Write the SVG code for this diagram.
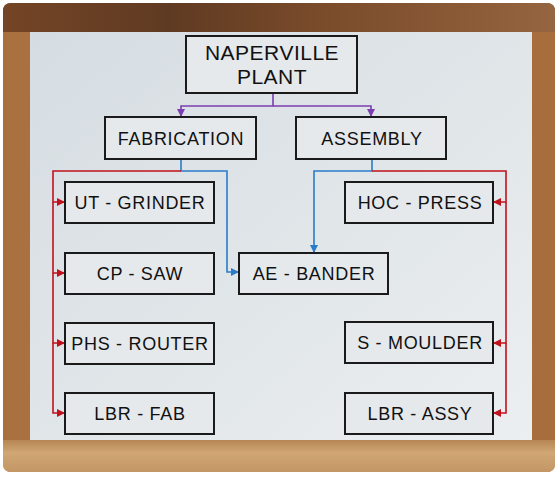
<svg xmlns="http://www.w3.org/2000/svg" width="558" height="477" viewBox="0 0 558 477">
<defs>
<linearGradient id="topWood" x1="0" y1="0" x2="1" y2="0">
<stop offset="0" stop-color="#744526"/><stop offset="0.3" stop-color="#5f3a22"/><stop offset="0.6" stop-color="#7c4d2b"/><stop offset="1" stop-color="#956440"/>
</linearGradient>
<linearGradient id="sideWood" x1="0" y1="0" x2="1" y2="0">
<stop offset="0" stop-color="#a9703f"/><stop offset="0.5" stop-color="#b47b47"/><stop offset="1" stop-color="#9d6336"/>
</linearGradient>
<linearGradient id="botWood" x1="0" y1="0" x2="0" y2="1">
<stop offset="0" stop-color="#b68654"/><stop offset="0.4" stop-color="#cfa674"/><stop offset="1" stop-color="#c49665"/>
</linearGradient>
<linearGradient id="board" x1="0" y1="0" x2="1" y2="1">
<stop offset="0" stop-color="#d6dde2"/><stop offset="0.6" stop-color="#e2e7ea"/><stop offset="1" stop-color="#eceff1"/>
</linearGradient>
<marker id="arP" markerWidth="8" markerHeight="8" refX="7" refY="4" orient="auto" markerUnits="userSpaceOnUse"><path d="M0,0 L8,4 L0,8 z" fill="#7b3fb0"/></marker>
<marker id="arR" markerWidth="8" markerHeight="8" refX="7" refY="4" orient="auto" markerUnits="userSpaceOnUse"><path d="M0,0 L8,4 L0,8 z" fill="#c1121c"/></marker>
<marker id="arB" markerWidth="8" markerHeight="8" refX="7" refY="4" orient="auto" markerUnits="userSpaceOnUse"><path d="M0,0 L8,4 L0,8 z" fill="#2a7cc8"/></marker>
<style>
.box{fill:#e5e9ec;stroke:#1a1a1a;stroke-width:2}
.t{font-family:"Liberation Sans",Arial,sans-serif;font-size:18px;fill:#111;text-anchor:middle;letter-spacing:0.7px}
.big{font-size:21px;letter-spacing:0.5px}
.p{fill:none;stroke:#7b3fb0;stroke-width:1.6}
.r{fill:none;stroke:#c1121c;stroke-width:1.6}
.b{fill:none;stroke:#2a7cc8;stroke-width:1.6}
</style>
</defs>
<g id="frame">
<rect x="3" y="3" width="552" height="469" rx="8" fill="url(#sideWood)"/>
<path d="M11,3 H547 Q555,3 555,11 V32 H3 V11 Q3,3 11,3 z" fill="url(#topWood)"/>
<path d="M3,440 H555 V464 Q555,472 547,472 H11 Q3,472 3,464 z" fill="url(#botWood)"/>
<rect x="532" y="32" width="23" height="408" fill="#a76d3d"/>
<rect x="30" y="32" width="502" height="408" fill="url(#board)"/>
</g>
<g id="connectors">
<path class="p" d="M273,93 V106 H181 V116" marker-end="url(#arP)"/>
<path class="p" d="M273,106 H371 V116" marker-end="url(#arP)"/>
<path class="b" d="M181,159 V171 H227 V272 H238" marker-end="url(#arB)"/>
<path class="r" d="M181,171 H53 V202 H64" marker-end="url(#arR)"/>
<path class="r" d="M53,202 V273 H64" marker-end="url(#arR)"/>
<path class="r" d="M53,273 V343 H64" marker-end="url(#arR)"/>
<path class="r" d="M53,343 V413 H64" marker-end="url(#arR)"/>
<path class="b" d="M372,159 V171 H314 V252" marker-end="url(#arB)"/>
<path class="r" d="M372,171 H506 V202 H494" marker-end="url(#arR)"/>
<path class="r" d="M506,202 V343 H494" marker-end="url(#arR)"/>
<path class="r" d="M506,343 V413 H494" marker-end="url(#arR)"/>
</g>
<g id="naperville"><rect class="box" x="186" y="36" width="171" height="57"/><text class="t big" x="272" y="60">NAPERVILLE</text><text class="t big" x="272" y="84">PLANT</text></g>
<g id="fabrication"><rect class="box" x="105" y="117" width="151" height="42"/><text class="t" x="181" y="145">FABRICATION</text></g>
<g id="assembly"><rect class="box" x="296" y="117" width="150" height="42"/><text class="t" x="372" y="145">ASSEMBLY</text></g>
<g id="ut-grinder"><rect class="box" x="65" y="182" width="149" height="41"/><text class="t" x="140" y="209">UT - GRINDER</text></g>
<g id="hoc-press"><rect class="box" x="345" y="182" width="148" height="41"/><text class="t" x="420" y="209">HOC - PRESS</text></g>
<g id="cp-saw"><rect class="box" x="65" y="253" width="149" height="41"/><text class="t" x="140" y="280">CP - SAW</text></g>
<g id="ae-bander"><rect class="box" x="239" y="253" width="149" height="41"/><text class="t" x="314" y="280">AE - BANDER</text></g>
<g id="phs-router"><rect class="box" x="65" y="323" width="149" height="41"/><text class="t" x="140" y="350">PHS - ROUTER</text></g>
<g id="s-moulder"><rect class="box" x="345" y="322" width="148" height="41"/><text class="t" x="420" y="349">S - MOULDER</text></g>
<g id="lbr-fab"><rect class="box" x="65" y="393" width="149" height="41"/><text class="t" x="140" y="420">LBR - FAB</text></g>
<g id="lbr-assy"><rect class="box" x="345" y="393" width="148" height="41"/><text class="t" x="420" y="420">LBR - ASSY</text></g>
</svg>
